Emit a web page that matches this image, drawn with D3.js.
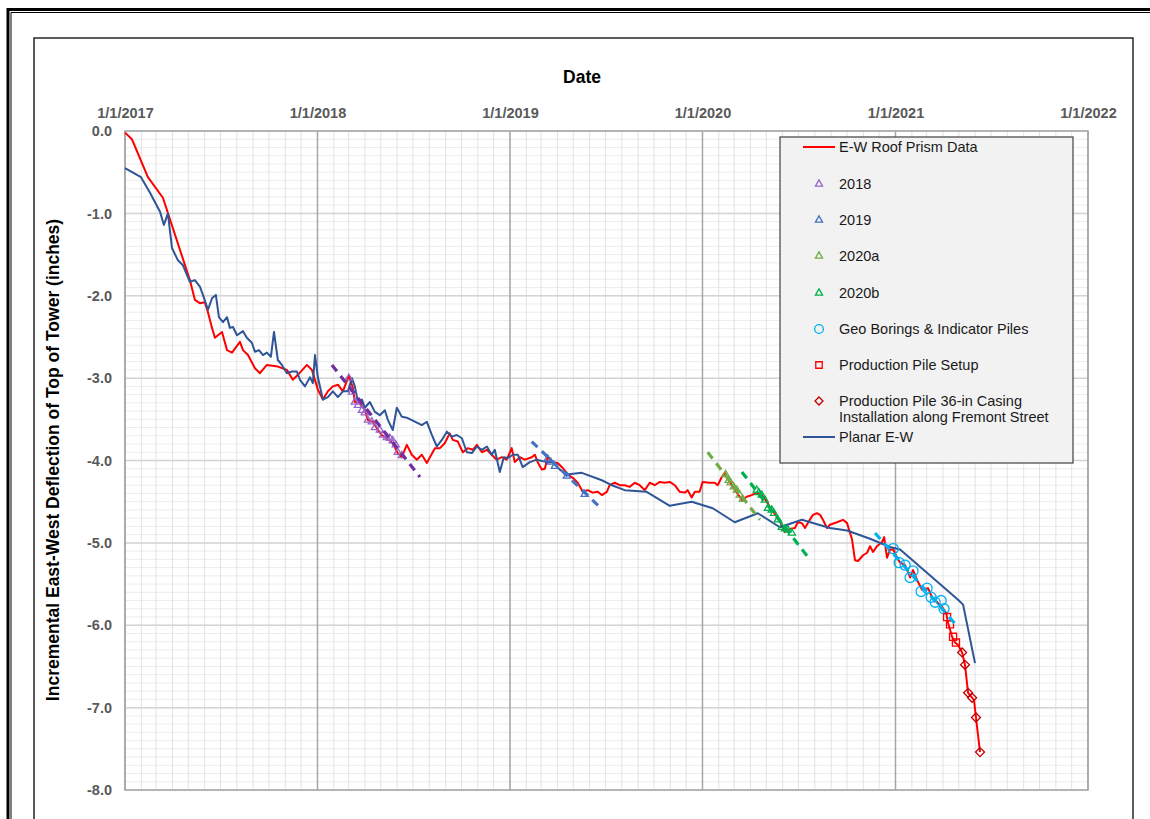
<!DOCTYPE html>
<html>
<head>
<meta charset="utf-8">
<script src="https://cdn.jsdelivr.net/npm/d3@7"></script>
<style>
body{margin:0;background:#fff;}
svg{display:block;font-family:Arial,"Liberation Sans",sans-serif;}
</style>
</head>
<body>
<div id="chart"></div>
<script>
// values are [decimal year, deflection in inches]
var prismData = [[2017.000,-0.02],[2017.036,-0.10],[2017.119,-0.56],[2017.197,-0.81],[2017.337,-1.81],[2017.363,-2.05],[2017.389,-2.09],[2017.415,-2.08],[2017.431,-2.20],[2017.452,-2.39],[2017.467,-2.51],[2017.504,-2.44],[2017.530,-2.66],[2017.556,-2.69],[2017.597,-2.56],[2017.613,-2.66],[2017.639,-2.72],[2017.675,-2.88],[2017.701,-2.94],[2017.737,-2.84],[2017.794,-2.86],[2017.841,-2.90],[2017.872,-3.02],[2017.898,-2.96],[2017.945,-2.84],[2017.971,-2.90],[2018.002,-3.14],[2018.028,-3.26],[2018.054,-3.16],[2018.080,-3.10],[2018.106,-3.08],[2018.132,-3.16],[2018.163,-2.97],[2018.184,-3.12],[2018.194,-3.29],[2018.220,-3.30],[2018.246,-3.39],[2018.262,-3.51],[2018.288,-3.53],[2018.314,-3.63],[2018.334,-3.69],[2018.360,-3.73],[2018.391,-3.79],[2018.417,-3.91],[2018.438,-3.96],[2018.464,-3.81],[2018.490,-3.93],[2018.516,-3.99],[2018.542,-3.93],[2018.568,-4.03],[2018.584,-3.96],[2018.610,-3.85],[2018.636,-3.85],[2018.661,-3.79],[2018.687,-3.67],[2018.703,-3.75],[2018.729,-3.77],[2018.755,-3.90],[2018.781,-3.85],[2018.807,-3.87],[2018.828,-3.81],[2018.854,-3.90],[2018.880,-3.87],[2018.905,-3.93],[2018.931,-3.99],[2018.957,-3.96],[2018.983,-3.99],[2019.009,-3.85],[2019.025,-4.02],[2019.051,-3.96],[2019.077,-3.99],[2019.113,-3.96],[2019.129,-3.93],[2019.144,-4.02],[2019.165,-4.11],[2019.181,-4.10],[2019.196,-3.96],[2019.222,-4.02],[2019.248,-4.03],[2019.274,-4.09],[2019.300,-4.17],[2019.326,-4.21],[2019.352,-4.27],[2019.378,-4.38],[2019.404,-4.36],[2019.430,-4.39],[2019.456,-4.38],[2019.477,-4.42],[2019.503,-4.38],[2019.518,-4.30],[2019.544,-4.27],[2019.570,-4.30],[2019.596,-4.30],[2019.622,-4.32],[2019.648,-4.27],[2019.674,-4.30],[2019.700,-4.36],[2019.726,-4.27],[2019.752,-4.30],[2019.778,-4.26],[2019.804,-4.27],[2019.830,-4.26],[2019.856,-4.30],[2019.882,-4.38],[2019.908,-4.39],[2019.923,-4.36],[2019.944,-4.45],[2019.960,-4.38],[2019.985,-4.38],[2020.001,-4.26],[2020.037,-4.27],[2020.063,-4.27],[2020.079,-4.30],[2020.100,-4.20],[2020.115,-4.15],[2020.141,-4.26],[2020.178,-4.39],[2020.204,-4.48],[2020.229,-4.44],[2020.255,-4.42],[2020.281,-4.39],[2020.307,-4.42],[2020.333,-4.50],[2020.359,-4.60],[2020.385,-4.68],[2020.411,-4.78],[2020.427,-4.87],[2020.453,-4.83],[2020.479,-4.82],[2020.494,-4.75],[2020.515,-4.76],[2020.531,-4.82],[2020.546,-4.76],[2020.572,-4.66],[2020.593,-4.64],[2020.609,-4.66],[2020.624,-4.72],[2020.645,-4.82],[2020.660,-4.78],[2020.697,-4.75],[2020.728,-4.72],[2020.749,-4.76],[2020.775,-4.96],[2020.790,-5.21],[2020.806,-5.22],[2020.832,-5.15],[2020.853,-5.12],[2020.868,-5.04],[2020.884,-5.11],[2020.904,-5.04],[2020.930,-4.99],[2020.941,-4.93],[2020.956,-5.18],[2020.972,-5.08],[2020.988,-5.08],[2021.008,-5.18],[2021.024,-5.24],[2021.050,-5.27],[2021.076,-5.42],[2021.091,-5.33],[2021.112,-5.45],[2021.138,-5.57],[2021.169,-5.55],[2021.190,-5.66],[2021.216,-5.72],[2021.242,-5.78],[2021.263,-5.85],[2021.273,-5.97],[2021.294,-6.14],[2021.309,-6.21],[2021.325,-6.24],[2021.346,-6.33],[2021.361,-6.48],[2021.377,-6.82],[2021.398,-6.88],[2021.408,-6.91],[2021.418,-7.12],[2021.439,-7.54]];

var planarData = [[2017.000,-0.45],[2017.083,-0.56],[2017.130,-0.75],[2017.182,-0.98],[2017.202,-1.14],[2017.223,-1.00],[2017.244,-1.42],[2017.275,-1.57],[2017.301,-1.63],[2017.337,-1.83],[2017.363,-1.81],[2017.389,-1.89],[2017.405,-1.99],[2017.431,-2.17],[2017.452,-2.03],[2017.472,-1.99],[2017.488,-2.26],[2017.509,-2.32],[2017.530,-2.26],[2017.545,-2.39],[2017.561,-2.38],[2017.582,-2.48],[2017.613,-2.43],[2017.633,-2.51],[2017.659,-2.57],[2017.675,-2.68],[2017.696,-2.66],[2017.717,-2.72],[2017.737,-2.69],[2017.758,-2.74],[2017.774,-2.44],[2017.794,-2.78],[2017.815,-2.84],[2017.841,-2.94],[2017.867,-2.92],[2017.893,-2.92],[2017.909,-3.02],[2017.935,-3.10],[2017.961,-2.99],[2017.976,-3.06],[2017.987,-2.72],[2018.002,-2.99],[2018.028,-3.26],[2018.054,-3.23],[2018.080,-3.16],[2018.106,-3.23],[2018.132,-3.16],[2018.158,-3.16],[2018.179,-3.00],[2018.194,-3.10],[2018.210,-3.29],[2018.231,-3.26],[2018.246,-3.36],[2018.272,-3.29],[2018.298,-3.41],[2018.324,-3.45],[2018.350,-3.39],[2018.366,-3.51],[2018.391,-3.63],[2018.412,-3.36],[2018.438,-3.47],[2018.464,-3.48],[2018.490,-3.51],[2018.516,-3.54],[2018.542,-3.57],[2018.568,-3.53],[2018.594,-3.69],[2018.620,-3.83],[2018.646,-3.75],[2018.672,-3.65],[2018.698,-3.71],[2018.724,-3.69],[2018.750,-3.73],[2018.776,-3.90],[2018.802,-3.91],[2018.828,-3.83],[2018.854,-3.87],[2018.880,-3.83],[2018.905,-3.93],[2018.921,-3.87],[2018.947,-4.14],[2018.968,-3.96],[2018.989,-3.97],[2019.015,-3.93],[2019.041,-3.93],[2019.066,-4.08],[2019.103,-4.02],[2019.139,-3.99],[2019.191,-4.02],[2019.222,-4.02],[2019.259,-4.11],[2019.295,-4.17],[2019.373,-4.15],[2019.477,-4.24],[2019.529,-4.30],[2019.596,-4.36],[2019.710,-4.38],[2019.830,-4.55],[2019.944,-4.50],[2020.053,-4.58],[2020.167,-4.75],[2020.287,-4.64],[2020.401,-4.81],[2020.515,-4.72],[2020.660,-4.82],[2020.749,-4.85],[2020.868,-4.95],[2020.972,-5.05],[2021.024,-5.08],[2021.325,-5.69],[2021.351,-5.75],[2021.413,-6.46]];

var pts2018 = [[2018.163,-3.00],[2018.179,-3.17],[2018.194,-3.29],[2018.210,-3.33],[2018.231,-3.39],[2018.246,-3.42],[2018.262,-3.51],[2018.282,-3.53],[2018.298,-3.60],[2018.324,-3.63],[2018.340,-3.69],[2018.360,-3.72],[2018.376,-3.73],[2018.391,-3.76],[2018.407,-3.81],[2018.417,-3.90],[2018.438,-3.94]];
var pts2019 = [[2019.196,-3.98],[2019.212,-4.02],[2019.233,-4.07],[2019.295,-4.19],[2019.388,-4.41]];
var pts2020a = [[2020.120,-4.17],[2020.136,-4.24],[2020.146,-4.27],[2020.162,-4.32],[2020.178,-4.36],[2020.193,-4.42],[2020.209,-4.47]];
var pts2020b = [[2020.281,-4.36],[2020.292,-4.39],[2020.307,-4.42],[2020.323,-4.48],[2020.339,-4.58],[2020.359,-4.60],[2020.370,-4.64],[2020.390,-4.72],[2020.411,-4.81],[2020.427,-4.83],[2020.442,-4.84],[2020.463,-4.88]];
var geoPts = [[2020.988,-5.07],[2021.019,-5.24],[2021.050,-5.27],[2021.076,-5.42],[2021.091,-5.34],[2021.133,-5.59],[2021.164,-5.55],[2021.185,-5.66],[2021.206,-5.72],[2021.237,-5.70],[2021.252,-5.80]];
var setupPts = [[2021.268,-5.90],[2021.283,-5.99],[2021.299,-6.14],[2021.314,-6.21]];
var casingPts = [[2021.346,-6.33],[2021.361,-6.48],[2021.377,-6.82],[2021.398,-6.88],[2021.418,-7.12],[2021.439,-7.54]];

// dashed trend lines, start and end
var trend2018 = [[2018.075,-2.84],[2018.532,-4.20]];
var trend2019 = [[2019.113,-3.77],[2019.477,-4.59]];
var trend2020a = [[2020.027,-3.90],[2020.297,-4.72]];
var trend2020b = [[2020.204,-4.14],[2020.546,-5.17]];
var trendGeo = [[2020.894,-4.88],[2021.309,-5.98]];

var yearTicks = [2017, 2018, 2019, 2020, 2021, 2022];
var yTicks = [0, -1, -2, -3, -4, -5, -6, -7, -8];
var legendLabels = ['E-W Roof Prism Data', '2018', '2019', '2020a', '2020b', 'Geo Borings & Indicator Piles',
	'Production Pile Setup', 'Production Pile 36-in Casing|Installation along Fremont Street', 'Planar E-W'];

function toDate(t){
	var yr = Math.floor(t);
	var a = new Date(yr, 0, 1), b = new Date(yr + 1, 0, 1);
	return new Date(+a + (t - yr) * (b - a));
}

var W = 1150, H = 819;
var plot = {left: 125, right: 1088, top: 131, bottom: 790};

var svg = d3.select('#chart').append('svg')
	.attr('width', W)
	.attr('height', H);
svg.append('rect').attr('width', W).attr('height', H).attr('fill', '#fff');

// page frame
svg.append('path').attr('d', 'M8,' + H + 'V9.5H' + W).attr('fill', 'none').attr('stroke', '#000').attr('stroke-width', 3);
svg.append('path').attr('d', 'M11,' + H + 'V12.5H' + W).attr('fill', 'none').attr('stroke', '#000').attr('stroke-width', 1);
svg.append('rect').attr('x', 34).attr('y', 38).attr('width', 1099).attr('height', 820)
	.attr('fill', 'none').attr('stroke', '#262626').attr('stroke-width', 1.5);

var x = d3.scaleTime()
	.domain([toDate(2017), toDate(2022)])
	.range([plot.left, plot.right]);
var y = d3.scaleLinear()
	.domain([0, -8])
	.range([plot.top, plot.bottom]);

var grid = svg.append('g');
// minor grid
grid.selectAll('.hmin').data(d3.range(0, 81).map(function(i){ return -i / 10; }))
	.enter().append('line')
		.attr('x1', plot.left).attr('x2', plot.right)
		.attr('y1', function(d){ return y(d); }).attr('y2', function(d){ return y(d); })
		.attr('stroke', '#ececec').attr('stroke-width', 1);
grid.selectAll('.vmin').data(d3.timeMonth.range(toDate(2017), toDate(2022)))
	.enter().append('line')
		.attr('x1', function(d){ return x(d); }).attr('x2', function(d){ return x(d); })
		.attr('y1', plot.top).attr('y2', plot.bottom)
		.attr('stroke', '#e3e3e3').attr('stroke-width', 1);
// major grid
grid.selectAll('.hmaj').data(yTicks)
	.enter().append('line')
		.attr('x1', plot.left).attr('x2', plot.right)
		.attr('y1', function(d){ return y(d); }).attr('y2', function(d){ return y(d); })
		.attr('stroke', '#d4d4d4').attr('stroke-width', 1.5);
grid.selectAll('.vmaj').data(yearTicks)
	.enter().append('line')
		.attr('x1', function(d){ return x(toDate(d)); }).attr('x2', function(d){ return x(toDate(d)); })
		.attr('y1', plot.top).attr('y2', plot.bottom)
		.attr('stroke', '#a6a6a6').attr('stroke-width', 1.5);
grid.append('rect')
	.attr('x', plot.left).attr('y', plot.top)
	.attr('width', plot.right - plot.left).attr('height', plot.bottom - plot.top)
	.attr('fill', 'none').attr('stroke', '#a6a6a6').attr('stroke-width', 1.5);

// axes (labels only)
var xAxis = svg.append('g')
	.attr('transform', 'translate(0,118)')
	.call(d3.axisTop(x).tickValues(yearTicks.map(toDate)).tickFormat(d3.timeFormat('%-m/%-d/%Y')).tickSize(0).tickPadding(0));
var yAxis = svg.append('g')
	.attr('transform', 'translate(112,0)')
	.call(d3.axisLeft(y).tickValues(yTicks).tickFormat(function(d){ return d.toFixed(1); }).tickSize(0).tickPadding(0));
[xAxis, yAxis].forEach(function(g){
	g.select('.domain').remove();
	g.selectAll('text')
		.attr('font-family', 'Arial, "Liberation Sans", sans-serif')
		.attr('font-size', 14.5)
		.attr('font-weight', 'bold')
		.attr('fill', '#595959');
});

svg.append('text')
	.attr('x', 582).attr('y', 83)
	.attr('text-anchor', 'middle')
	.attr('font-size', 17.5).attr('font-weight', 'bold')
	.text('Date');
svg.append('text')
	.attr('transform', 'translate(59,460) rotate(-90)')
	.attr('text-anchor', 'middle')
	.attr('font-size', 17.5).attr('font-weight', 'bold')
	.text('Incremental East-West Deflection of Top of Tower (inches)');

// series
var line = d3.line()
	.x(function(d){ return x(toDate(d[0])); })
	.y(function(d){ return y(d[1]); });

var chartArea = svg.append('g');

chartArea.append('path').datum(prismData)
	.attr('d', line).attr('fill', 'none')
	.attr('stroke', '#ff0000').attr('stroke-width', 2).attr('stroke-linejoin', 'round');
chartArea.append('path').datum(planarData)
	.attr('d', line).attr('fill', 'none')
	.attr('stroke', '#2f5597').attr('stroke-width', 2).attr('stroke-linejoin', 'round');

// diamonds are squares turned by 45 degrees
function drawMarkers(data, symbol, size, color, rot){
	chartArea.append('g').selectAll('path')
		.data(data)
		.enter().append('path')
			.attr('transform', function(d){ return 'translate(' + x(toDate(d[0])) + ',' + y(d[1]) + ') rotate(' + (rot || 0) + ')'; })
			.attr('d', d3.symbol().type(symbol).size(size))
			.attr('fill', 'none')
			.attr('stroke', color)
			.attr('stroke-width', 1.3);
}
drawMarkers(pts2018, d3.symbolTriangle, 22, '#9966cc');
drawMarkers(pts2019, d3.symbolTriangle, 22, '#4472c4');
drawMarkers(pts2020a, d3.symbolTriangle, 22, '#70ad47');
drawMarkers(pts2020b, d3.symbolTriangle, 22, '#00b050');
drawMarkers(geoPts, d3.symbolCircle, 80, '#00b0f0');
drawMarkers(setupPts, d3.symbolSquare, 50, '#ff0000');
drawMarkers(casingPts, d3.symbolSquare, 40, '#c00000', 45);

function drawTrend(data, color){
	chartArea.append('path').datum(data)
		.attr('d', line)
		.attr('stroke', color)
		.attr('stroke-width', 3.2)
		.attr('stroke-dasharray', '8,6');
}
drawTrend(trend2018, '#7030a0');
drawTrend(trend2019, '#4472c4');
drawTrend(trend2020a, '#70ad47');
drawTrend(trend2020b, '#00b050');
drawTrend(trendGeo, '#00b0f0');

// legend
var legend = svg.append('g');
legend.append('rect')
	.attr('x', 780).attr('y', 137).attr('width', 293).attr('height', 326)
	.attr('fill', '#f2f2f2').attr('stroke', '#404040').attr('stroke-width', 1.2);

var legendRows = [147, 184, 220, 256, 293, 329, 365, 401, 437];
var legendStyle = [
	{kind: 'line', color: '#ff0000'},
	{kind: d3.symbolTriangle, color: '#9966cc', size: 22},
	{kind: d3.symbolTriangle, color: '#4472c4', size: 22},
	{kind: d3.symbolTriangle, color: '#70ad47', size: 22},
	{kind: d3.symbolTriangle, color: '#00b050', size: 22},
	{kind: d3.symbolCircle, color: '#00b0f0', size: 60},
	{kind: d3.symbolSquare, color: '#ff0000', size: 42},
	{kind: d3.symbolSquare, color: '#c00000', size: 32, rot: 45},
	{kind: 'line', color: '#2f5597'}
];
legendLabels.forEach(function(label, i){
	var ly = legendRows[i], st = legendStyle[i];
	if (st.kind == 'line'){
		legend.append('line')
			.attr('x1', 803).attr('x2', 835).attr('y1', ly).attr('y2', ly)
			.attr('stroke', st.color).attr('stroke-width', 2);
	} else {
		legend.append('path')
			.attr('transform', 'translate(819,' + ly + ') rotate(' + (st.rot || 0) + ')')
			.attr('d', d3.symbol().type(st.kind).size(st.size))
			.attr('fill', 'none').attr('stroke', st.color).attr('stroke-width', 1.3);
	}
	label.split('|').forEach(function(part, j){
		legend.append('text')
			.attr('x', 839).attr('y', ly + j * 16)
			.attr('dy', '0.35em')
			.attr('font-size', 14.5)
			.attr('fill', '#1a1a1a')
			.text(part);
	});
});
</script>
</body>
</html>
